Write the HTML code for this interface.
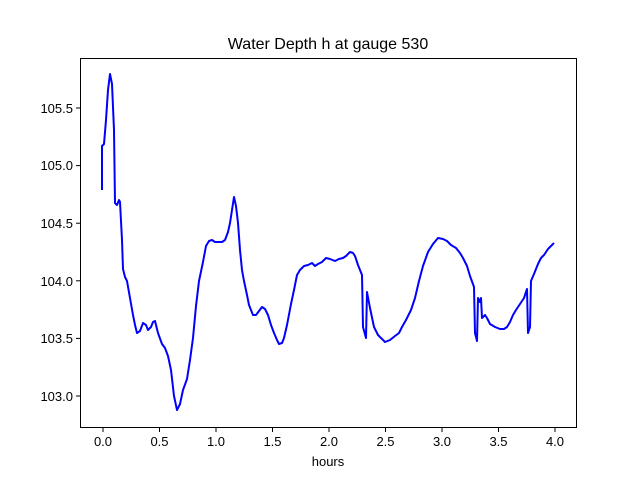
<!DOCTYPE html>
<html><head><meta charset="utf-8"><style>body{margin:0;background:#fff}</style></head>
<body>
<svg width="640" height="480" xmlns="http://www.w3.org/2000/svg" font-family="Liberation Sans, DejaVu Sans, sans-serif" font-size="13">
<rect width="640" height="480" fill="#fff"/>
<text x="328" y="49" text-anchor="middle" font-size="16">Water Depth h at gauge 530</text>
<polyline fill="none" stroke="#0000ff" stroke-width="2" stroke-linejoin="round" points="102,190 102,146 104,144 106,120 108,90 110,74 112,84 114,130 115,203 117,205 119,200 120,202 122,240 123,269 125,277 127,281 130,298 133,315 135,325 137,333 140,331 143,323 146,325 148,330 151,327 153,322 155,321 158,333 162,344 165,348 168,356 171,370 174,396 177,410 180,404 183,390 187,379 190,360 193,338 196,306 199,281 203,262 206,246 209,241 212,240 215,242 217,242 222,242 225,240 228,232 230,223 232,210 234,197 236,206 238,223 240,250 242,270 244,281 247,295 249,305 251,310 253,315 256,315 259,311 262,307 265,309 268,315 271,325 274,333 277,340 279,344 282,343 284,338 287,325 291,304 294,290 297,275 300,270 304,266 308,265 312,263 315,266 318,264 322,262 326,258 330,259 335,261 339,259 343,258 346,256 350,252 353,253 355,256 358,265 362,275 363,327 366,338 367,292 370,308 374,327 378,335 381,338 385,342 390,340 395,336 399,333 402,327 406,320 411,310 415,298 419,281 423,266 428,252 433,244 438,238 443,239 447,241 451,245 456,248 460,253 463,258 467,266 470,276 474,287 475,333 477,341 478,298 480,302 481,298 482,318 485,315 487,318 490,324 495,327 500,329 504,329 507,327 510,322 513,315 516,310 520,304 524,298 527,289 528,333 530,327 531,281 534,274 536,269 538,264 541,258 544,255 548,249 551,246 554,243"/>
<rect x="80.5" y="58.5" width="496" height="369" fill="none" stroke="#000" stroke-width="1"/>
<g stroke="#000" stroke-width="1">
<line x1="103" y1="428" x2="103" y2="432"/><line x1="159.5" y1="428" x2="159.5" y2="432"/><line x1="216" y1="428" x2="216" y2="432"/><line x1="272.5" y1="428" x2="272.5" y2="432"/><line x1="329" y1="428" x2="329" y2="432"/><line x1="385.5" y1="428" x2="385.5" y2="432"/><line x1="442" y1="428" x2="442" y2="432"/><line x1="498.5" y1="428" x2="498.5" y2="432"/><line x1="555" y1="428" x2="555" y2="432"/>
<line x1="76" y1="396" x2="80" y2="396"/><line x1="76" y1="338.4" x2="80" y2="338.4"/><line x1="76" y1="280.8" x2="80" y2="280.8"/><line x1="76" y1="223.2" x2="80" y2="223.2"/><line x1="76" y1="165.6" x2="80" y2="165.6"/><line x1="76" y1="108" x2="80" y2="108"/>
</g>
<g text-anchor="middle">
<text x="103" y="446">0.0</text><text x="159.5" y="446">0.5</text><text x="216" y="446">1.0</text><text x="272.5" y="446">1.5</text><text x="329" y="446">2.0</text><text x="385.5" y="446">2.5</text><text x="442" y="446">3.0</text><text x="498.5" y="446">3.5</text><text x="555" y="446">4.0</text>
<text x="328" y="466">hours</text>
</g>
<g text-anchor="end">
<text x="73" y="401">103.0</text><text x="73" y="343">103.5</text><text x="73" y="286">104.0</text><text x="73" y="228">104.5</text><text x="73" y="170">105.0</text><text x="73" y="113">105.5</text>
</g>
</svg>
</body></html>
